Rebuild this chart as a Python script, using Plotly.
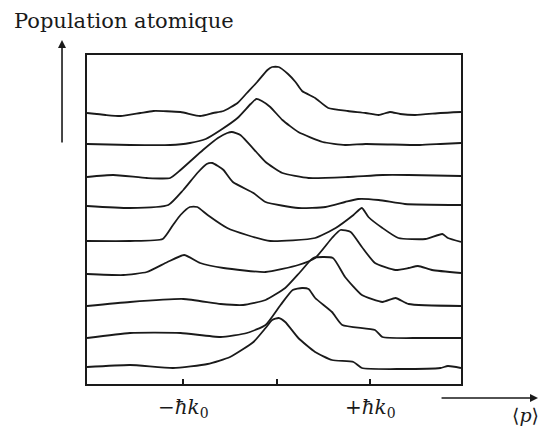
import plotly.graph_objects as go

# Momentum axis (units of hbar*k0) and stacked atomic-population profiles (arbitrary units)
curve1_x = [-2.03, -1.83, -1.67, -1.46, -1.32, -1.03, -0.82, -0.68, -0.57, -0.42, -0.32, -0.21, -0.10, -0.05, 0.02, 0.12, 0.20, 0.27, 0.41, 0.55, 0.76, 0.95, 1.09, 1.21, 1.32, 1.48, 1.75, 1.97]
curve1_y = [27.1, 26.9, 26.8, 27.1, 27.3, 27.2, 26.8, 27.1, 27.3, 28.1, 29.1, 30.2, 31.4, 31.7, 31.7, 31.0, 30.2, 29.3, 28.6, 27.6, 27.3, 27.1, 26.9, 27.2, 27.0, 26.9, 27.1, 27.2]

curve2_x = [-2.03, -1.57, -1.14, -0.93, -0.76, -0.60, -0.42, -0.28, -0.22, -0.16, -0.07, 0.06, 0.23, 0.49, 0.73, 0.95, 1.53, 1.75, 1.97]
curve2_y = [24.0, 23.9, 23.9, 24.1, 24.5, 25.4, 26.6, 28.0, 28.5, 28.3, 27.7, 26.4, 25.2, 24.2, 23.9, 24.0, 23.9, 24.0, 24.1]

curve3_x = [-2.03, -1.75, -1.39, -1.14, -1.03, -0.79, -0.63, -0.53, -0.48, -0.39, -0.21, -0.12, 0.06, 0.34, 0.76, 1.13, 1.41, 1.97]
curve3_y = [20.7, 20.9, 20.6, 20.6, 21.4, 23.4, 24.6, 25.1, 25.2, 24.9, 23.1, 22.2, 21.1, 20.6, 20.7, 20.9, 20.9, 20.8]

curve4_x = [-2.03, -1.57, -1.16, -1.00, -0.85, -0.75, -0.69, -0.63, -0.57, -0.47, -0.25, -0.12, 0.23, 0.52, 0.73, 0.87, 1.09, 1.37, 1.97]
curve4_y = [17.8, 17.6, 17.9, 19.4, 21.1, 22.0, 22.1, 21.8, 21.4, 20.2, 19.1, 18.2, 17.6, 17.7, 18.2, 18.5, 18.4, 18.0, 17.9]

curve5_x = [-2.03, -1.57, -1.22, -1.11, -1.03, -0.93, -0.85, -0.74, -0.53, -0.32, -0.07, 0.41, 0.63, 0.82, 0.91, 0.98, 1.13, 1.30, 1.59, 1.77, 1.83, 1.97]
curve5_y = [14.3, 14.3, 14.5, 15.9, 16.9, 17.7, 17.7, 16.9, 15.6, 14.9, 14.3, 14.6, 15.6, 16.9, 17.6, 16.7, 15.6, 14.6, 14.5, 15.0, 14.6, 14.2]

curve6_x = [-2.03, -1.64, -1.39, -1.17, -0.99, -0.82, -0.57, -0.12, 0.23, 0.41, 0.59, 0.68, 0.79, 0.91, 1.05, 1.27, 1.41, 1.51, 1.66, 1.97]
curve6_y = [11.0, 10.9, 11.2, 12.2, 12.9, 12.1, 11.6, 11.2, 11.9, 12.6, 14.6, 15.4, 15.2, 13.7, 12.1, 11.4, 11.6, 11.8, 11.4, 11.1]

curve7_x = [-2.03, -1.57, -1.00, -0.60, -0.36, -0.12, 0.09, 0.25, 0.39, 0.60, 0.73, 0.91, 1.13, 1.27, 1.41, 1.97]
curve7_y = [7.8, 8.2, 8.5, 8.0, 7.9, 8.4, 9.6, 11.2, 12.6, 12.6, 10.7, 8.9, 8.2, 8.6, 8.0, 7.8]

curve8_x = [-2.03, -1.57, -1.03, -0.60, -0.32, -0.12, 0.04, 0.17, 0.27, 0.34, 0.41, 0.59, 0.70, 1.05, 1.13, 1.53, 1.97]
curve8_y = [4.6, 5.1, 5.1, 4.7, 5.1, 5.9, 7.9, 9.4, 9.6, 9.5, 8.6, 7.2, 5.9, 5.4, 4.7, 4.6, 4.6]

curve9_x = [-2.03, -1.57, -1.11, -0.74, -0.50, -0.25, -0.12, -0.05, 0.02, 0.09, 0.23, 0.41, 0.59, 0.82, 0.91, 1.32, 1.75, 1.83, 1.97]
curve9_y = [1.7, 1.9, 1.6, 2.0, 2.7, 4.2, 5.6, 6.4, 6.6, 6.2, 4.6, 3.2, 2.4, 2.2, 1.6, 1.5, 1.6, 1.8, 1.6]

tick_vals = [-1, 0, 1]
tick_text = ["\u2212<i>\u0127k</i><sub>0</sub>", "", "+<i>\u0127k</i><sub>0</sub>"]
y_title = "Population atomique"
x_title = "\u27e8<i>p</i>\u27e9"

curves = [
    (curve1_x, curve1_y), (curve2_x, curve2_y), (curve3_x, curve3_y),
    (curve4_x, curve4_y), (curve5_x, curve5_y), (curve6_x, curve6_y),
    (curve7_x, curve7_y), (curve8_x, curve8_y), (curve9_x, curve9_y),
]

INK = "#1a1a1a"
FONT = "DejaVu Serif"

fig = go.Figure()
for cx, cy in curves:
    fig.add_trace(go.Scatter(x=cx, y=cy, mode="lines",
                             line=dict(color=INK, width=1.8, shape="spline", smoothing=0.5),
                             showlegend=False, hoverinfo="skip"))

fig.update_layout(
    width=539, height=436,
    margin=dict(l=87, r=78, t=55, b=52),
    paper_bgcolor="white", plot_bgcolor="white",
    font=dict(family=FONT, color=INK, size=19),
    xaxis=dict(range=[-2.03, 1.97], showgrid=False, zeroline=False,
               showline=True, mirror=True, linecolor=INK, linewidth=2,
               ticks="inside", ticklen=5, tickwidth=1.5, tickcolor=INK,
               tickvals=tick_vals, ticktext=tick_text,
               tickfont=dict(family=FONT, size=20, color=INK),
               ticklabelstandoff=4),
    yaxis=dict(range=[0, 32.9], showgrid=False, zeroline=False,
               showline=True, mirror=True, linecolor=INK, linewidth=2,
               showticklabels=False, ticks=""),
    annotations=[
        dict(xref="paper", yref="paper", x=-0.2005, y=1.1033,
             xanchor="left", yanchor="middle", showarrow=False,
             text=y_title, font=dict(family=FONT, size=21, color=INK)),
        dict(xref="paper", yref="paper", x=-0.0668, y=1.0456,
             ax=0, ay=104, text="", showarrow=True,
             arrowhead=2, arrowsize=1, arrowwidth=1.6, arrowcolor=INK),
        dict(xref="paper", yref="paper", x=1.206, y=-0.0426,
             ax=-98, ay=0, text="", showarrow=True,
             arrowhead=2, arrowsize=1, arrowwidth=1.6, arrowcolor=INK),
        dict(xref="paper", yref="paper", x=1.13, y=-0.0942,
             xanchor="left", yanchor="middle", showarrow=False,
             text=x_title, font=dict(family=FONT, size=19, color=INK)),
    ],
)

fig.write_html("out.html")
